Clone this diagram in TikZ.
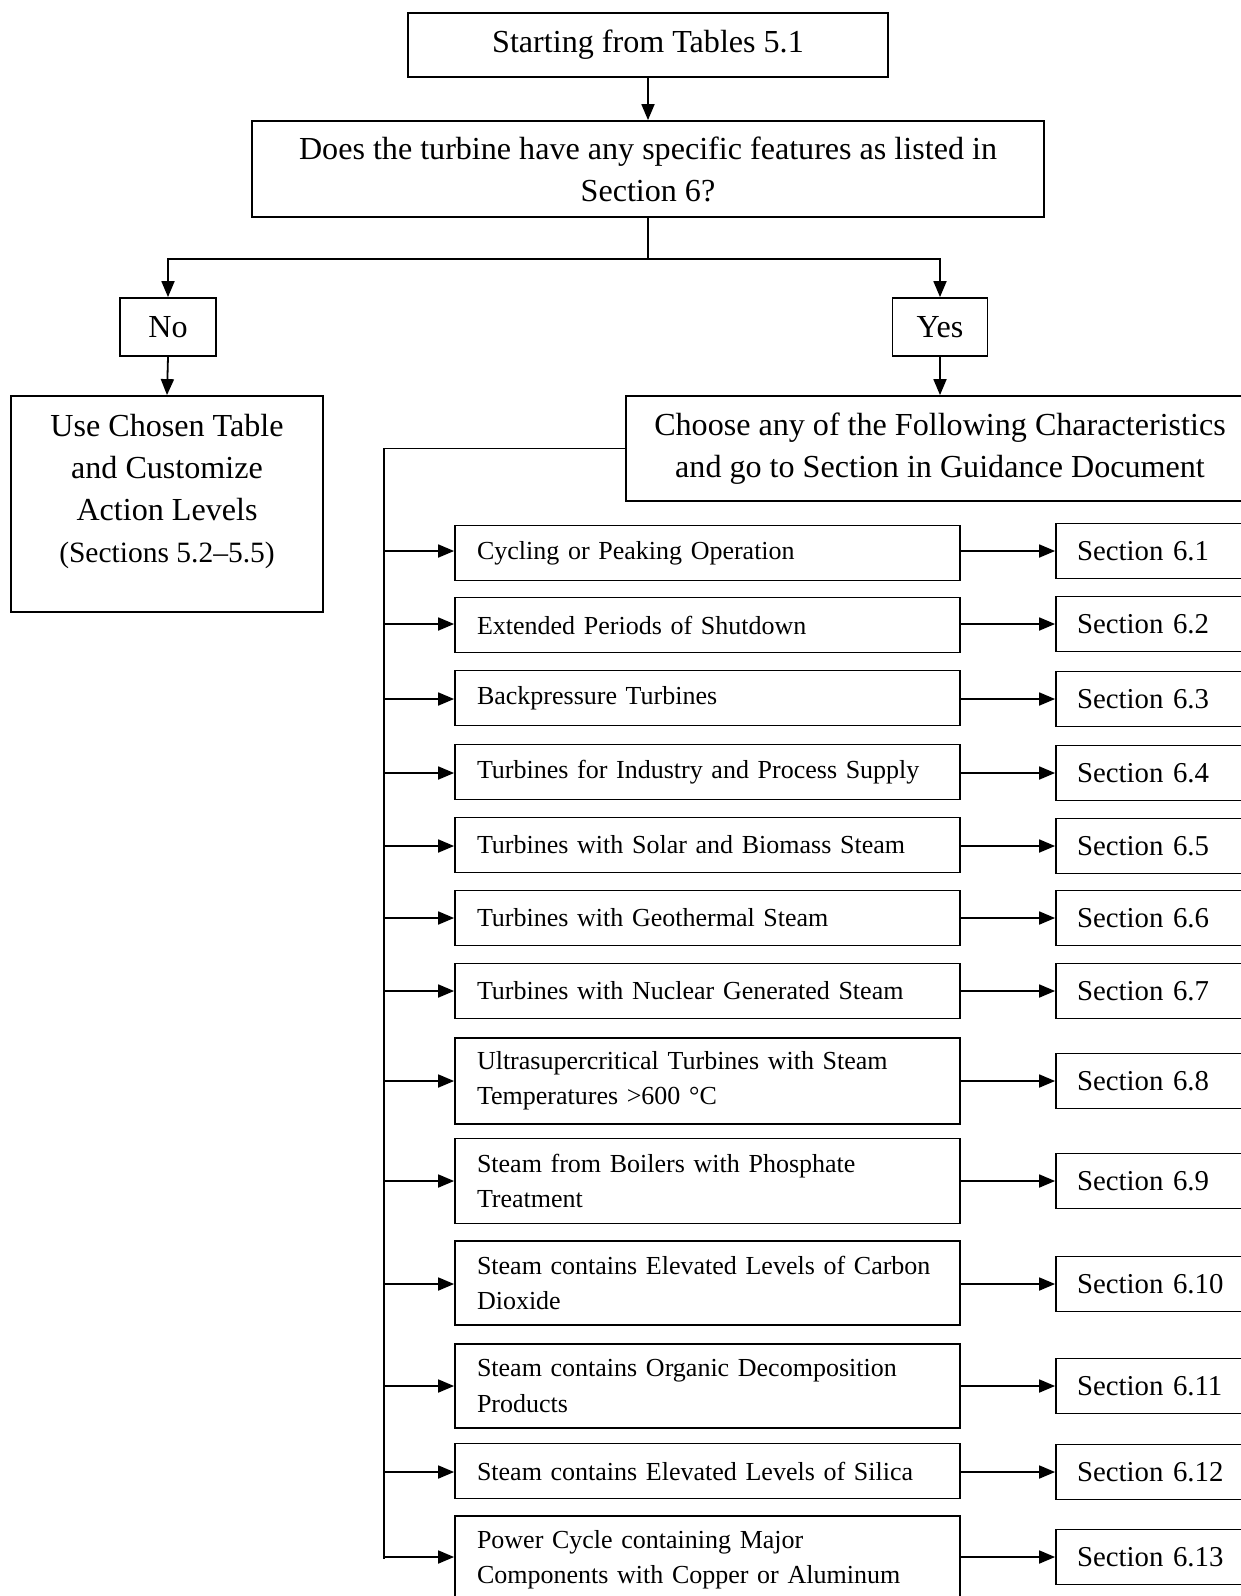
\documentclass[tikz,border=0pt]{standalone}
\usepackage{fontspec}
\setmainfont{Liberation Serif}
\usetikzlibrary{arrows.meta}
\newcommand\fbig{\fontsize{32.1}{42}\selectfont}
\newcommand\fchar{\fontsize{26.0}{35.3}\selectfont\hyphenpenalty=10000\exhyphenpenalty=10000}
\newcommand\fsec{\fontsize{28.8}{34}\selectfont}
\newcommand\fparen{\fontsize{29.5}{42}\selectfont}
\begin{document}
\begin{tikzpicture}[x=1pt,y=-1pt,
  ln/.style={line width=1.8pt},
  arr/.style={line width=1.8pt,-{Triangle[length=16pt,width=13pt]}},
  bigbox/.style={draw,line width=1.8pt,inner sep=0pt,align=center,font=\fbig},
  charbox/.style={draw,line width=1.8pt,minimum width=505pt,text width=461pt,inner xsep=22pt,inner ysep=0pt,align=left,font=\fchar},
  secbox/.style={draw,line width=1.8pt,minimum width=210pt,minimum height=55pt,text width=168pt,inner xsep=21pt,inner ysep=0pt,align=left,font=\fsec}]
\useasboundingbox (0,0) rectangle (1241,1596);
\clip (0,0) rectangle (1241,1596);
\fill[white] (0,0) rectangle (1241,1596);

\node[bigbox,minimum width=480pt,minimum height=64pt] (start) at (648,45) {Starting from Tables 5.1};
\node[bigbox,minimum width=792pt,minimum height=96pt] (q) at (648,169) {Does the turbine have any specific features as listed in\\Section 6?};
\node[bigbox,minimum width=96pt,minimum height=58pt] (no) at (168,327) {No};
\node[bigbox,minimum width=95pt,minimum height=58pt] (yes) at (940,327) {Yes};
\node[draw,ln,minimum width=312pt,minimum height=216pt,inner sep=0pt] (use) at (167,504) {};
\node[anchor=north,align=center,inner sep=0pt,font=\fbig] (usetxt) at (167,414) {Use Chosen Table\\and Customize\\Action Levels\\{\fparen (Sections 5.2–5.5)}};
\node[bigbox,minimum width=628pt,minimum height=105pt] (choose) at (940,448.5) {Choose any of the Following Characteristics\\and go to Section in Guidance Document};

\coordinate (br) at (648,259);
\draw[arr] (start.south) -- (q.north);
\draw[ln] (q.south) -- (br);
\draw[arr] (br) -| (no.north);
\draw[arr] (br) -| (yes.north);
\draw[arr] (no.south) -- (use.north);
\draw[arr] (yes.south) -- (choose.north);

\node[charbox,minimum height=55pt] (c1) at (707.5,553) {Cycling or Peaking Operation};
\node[charbox,minimum height=55pt] (c2) at (707.5,625) {Extended Periods of Shutdown};
\node[charbox,minimum height=55pt] (c3) at (707.5,698) {Backpressure Turbines};
\node[charbox,minimum height=55pt] (c4) at (707.5,772) {Turbines for Industry and Process Supply};
\node[charbox,minimum height=55pt] (c5) at (707.5,845) {Turbines with Solar and Biomass Steam};
\node[charbox,minimum height=55pt] (c6) at (707.5,918) {Turbines with Geothermal Steam};
\node[charbox,minimum height=55pt] (c7) at (707.5,991) {Turbines with Nuclear Generated Steam};
\node[charbox,minimum height=86pt] (c8) at (707.5,1081) {Ultrasupercritical Turbines with Steam\\Temperatures >600 °C};
\node[charbox,minimum height=85pt] (c9) at (707.5,1181) {Steam from Boilers with Phosphate\\Treatment};
\node[charbox,minimum height=84pt] (c10) at (707.5,1283) {Steam contains Elevated Levels of Carbon\\Dioxide};
\node[charbox,minimum height=84pt] (c11) at (707.5,1386) {Steam contains Organic Decomposition\\Products};
\node[charbox,minimum height=55pt] (c12) at (707.5,1471) {Steam contains Elevated Levels of Silica};
\node[charbox,minimum height=88pt] (c13) at (707.5,1560) {Power Cycle containing Major\\Components with Copper or Aluminum};

\node[secbox] (s1) at (1161,551) {Section 6.1};
\node[secbox] (s2) at (1161,624) {Section 6.2};
\node[secbox] (s3) at (1161,699) {Section 6.3};
\node[secbox] (s4) at (1161,773) {Section 6.4};
\node[secbox] (s5) at (1161,846) {Section 6.5};
\node[secbox] (s6) at (1161,918) {Section 6.6};
\node[secbox] (s7) at (1161,991) {Section 6.7};
\node[secbox] (s8) at (1161,1081) {Section 6.8};
\node[secbox] (s9) at (1161,1181) {Section 6.9};
\node[secbox] (s10) at (1161,1284) {Section 6.10};
\node[secbox] (s11) at (1161,1386) {Section 6.11};
\node[secbox] (s12) at (1161,1472) {Section 6.12};
\node[secbox] (s13) at (1161,1557) {Section 6.13};

\coordinate (bt) at (384,448.5);
\coordinate (bb) at (384,1559);
\draw[ln] (choose.west) -- (bt) -- (bb);
\foreach \i in {1,...,13} {
  \draw[arr] (bt |- s\i) -- (s\i -| c\i.west);
  \draw[arr] (s\i -| c\i.east) -- (s\i.west);
}
\end{tikzpicture}
\end{document}
